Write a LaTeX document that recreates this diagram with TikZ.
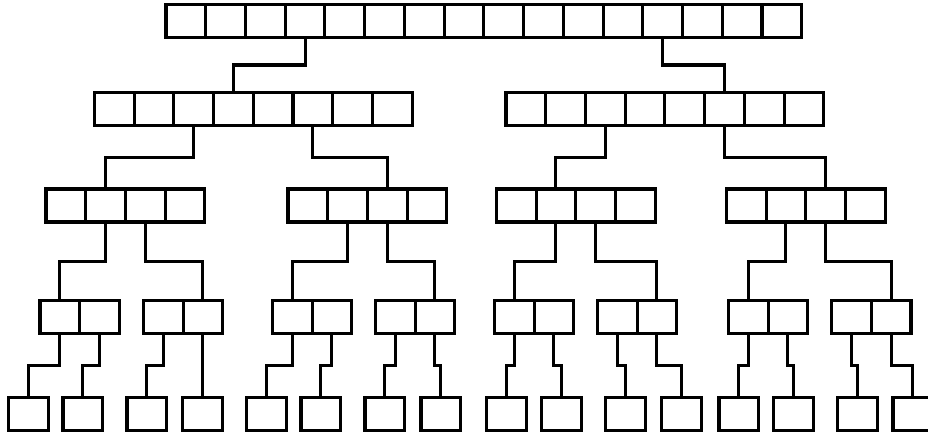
\documentclass[tikz,border=0pt]{standalone}
\usepackage{tikz}
\usetikzlibrary{positioning,calc}

% a row of cells: name, x, y, number of cells
\newcommand{\cellrow}[4]{%
  \node[cell, anchor=north west] (#1-1) at (#2,#3) {};
  \foreach \k [count=\j] in {2,...,#4} {
    \node[cell, right=0pt of #1-\j] (#1-\k) {};
  }%
}

\begin{document}
\begin{tikzpicture}[x=0.75pt, y=-0.75pt,
  cell/.style={draw, line width=2.3pt, minimum width=29.8pt, minimum height=24.75pt, inner sep=0pt, outer sep=0pt},
  link/.style={line width=2.3pt}]
\useasboundingbox (0,0) rectangle (928,433);
\clip (0,0) rectangle (928,433);

% Level 1
\cellrow{L1}{166}{4.5}{16}

% Level 2
\cellrow{L2-1}{94.3}{92.5}{8}
\cellrow{L2-2}{506}{92.5}{8}

% Level 3
\foreach \x [count=\i] in {46,288,496.3,726.3} {\cellrow{L3-\i}{\x}{189}{4}}

% Level 4
\foreach \x [count=\i] in {40,143.3,272.3,375.3,494.3,597.3,728.3,831.5} {\cellrow{L4-\i}{\x}{300.5}{2}}

% Leaves
\foreach \x [count=\i] in {8.5,63,127,182.7,246.7,301,365,421,486.7,541.3,605.3,661.3,719,773.3,837.3,893}
  \node[cell, anchor=north west] (L5-\i) at (\x,397.5) {};

% Links between levels 1 to 4
\foreach \p/\c in {L1-4/L2-1-4, L1-13/L2-2-6,
    L2-1-3/L3-1-2, L2-1-6/L3-2-3, L2-2-3/L3-3-2, L2-2-6/L3-4-3,
    L3-1-2/L4-1-1, L3-1-3/L4-2-2, L3-2-2/L4-3-1, L3-2-3/L4-4-2,
    L3-3-2/L4-5-1, L3-3-3/L4-6-2, L3-4-2/L4-7-1, L3-4-3/L4-8-2}
  \draw[link] (\p.south) |- ($(\p.south)!0.5!(\c.north)$) -| (\c.north);

% Links to the leaves
\foreach \i in {1,...,8} {
  \pgfmathtruncatemacro\lft{2*\i-1}
  \pgfmathtruncatemacro\rgt{2*\i}
  \draw[link] (L4-\i-1.south) |- ($(L4-\i-1.south)!0.5!(L5-\lft.north)$) -| (L5-\lft.north);
  \draw[link] (L4-\i-2.south) |- ($(L4-\i-2.south)!0.5!(L5-\rgt.north)$) -| (L5-\rgt.north);
}

\end{tikzpicture}
\end{document}
